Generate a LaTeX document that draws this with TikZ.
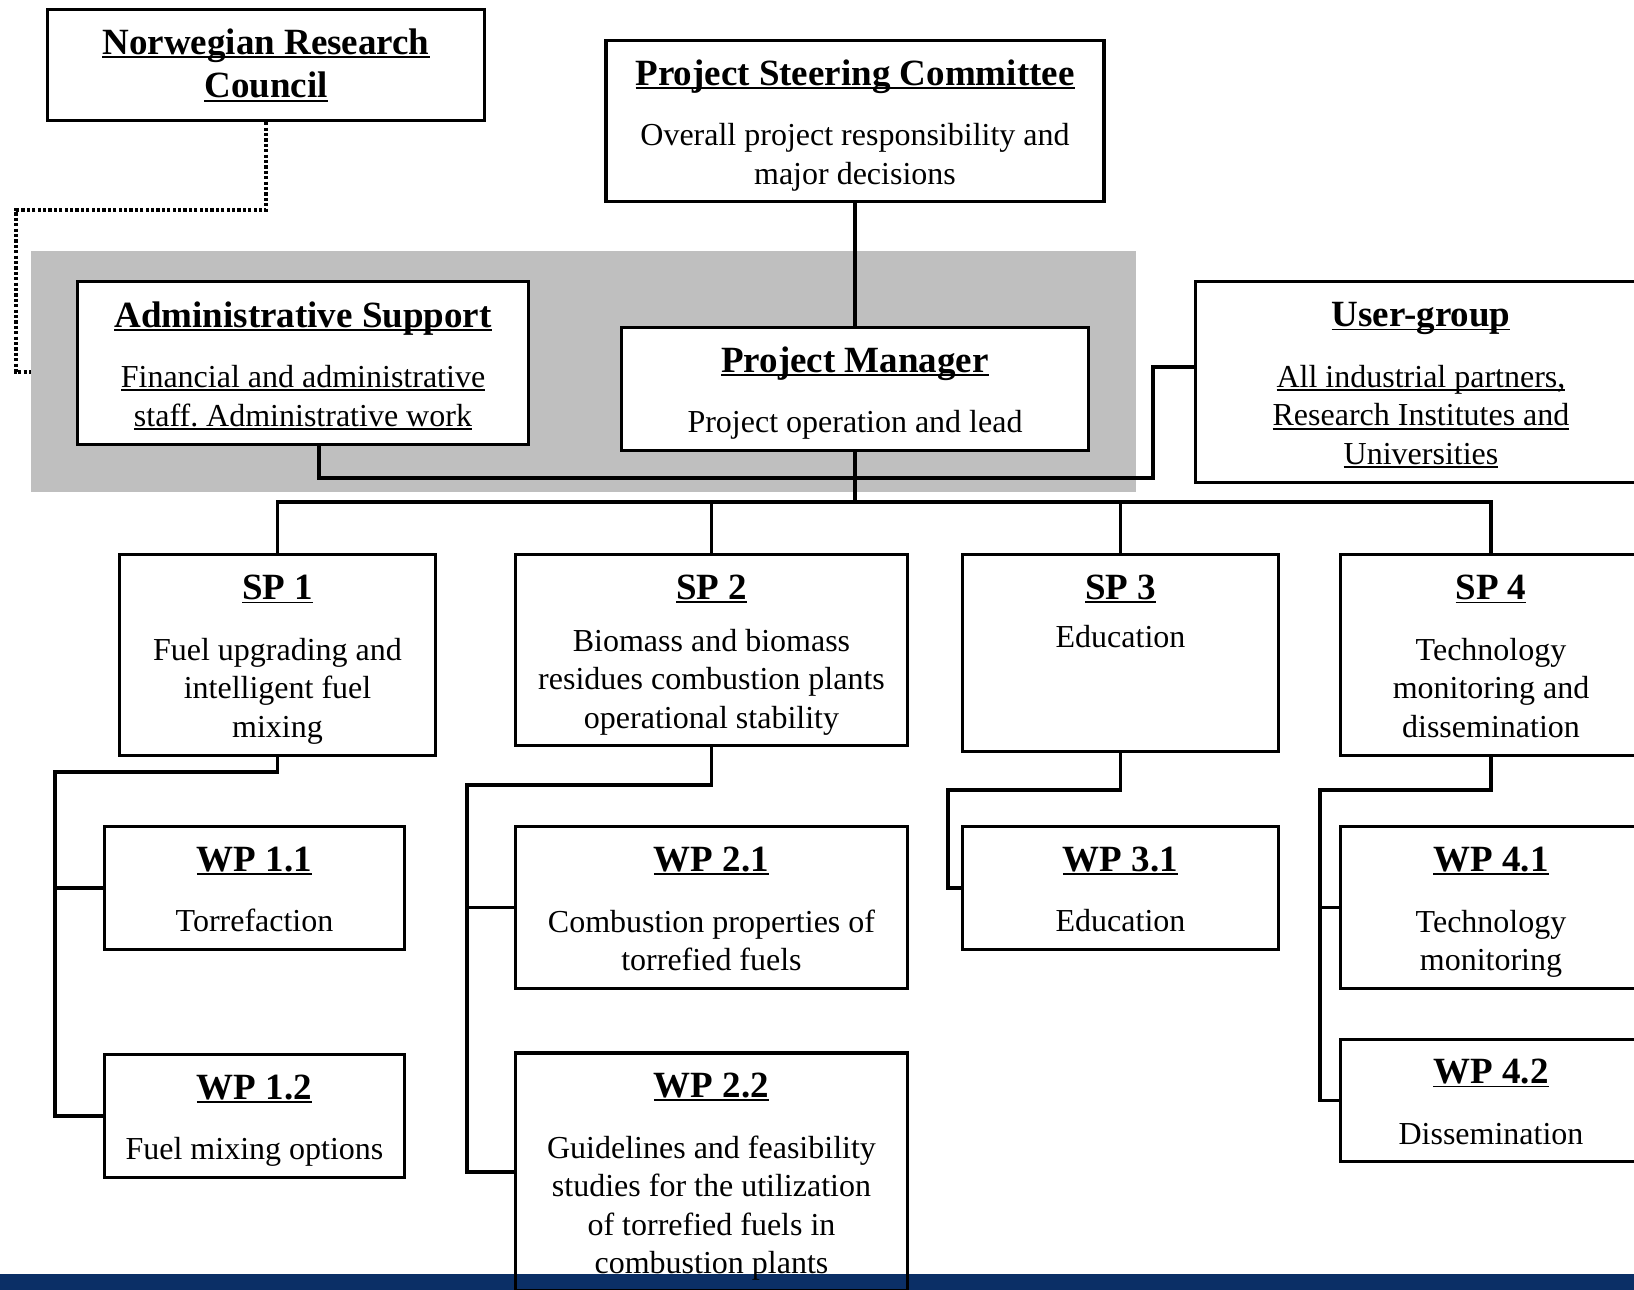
\documentclass[tikz,border=0pt]{standalone}
\usepackage{fontspec}
\setmainfont{Liberation Serif}
\usetikzlibrary{positioning}
\frenchspacing

\definecolor{cinzento}{RGB}{191,191,191}
\definecolor{azulfaixa}{RGB}{11,47,102}
\newcommand{\sublinhado}[1]{\setbox0\hbox{#1}\rlap{\rule[-1.8pt]{\wd0}{0.9pt}}\box0}
\newcommand{\nome}[1]{{\fontsize{18.5}{22}\selectfont\bfseries\sublinhado{#1}}}
\newcommand{\titulo}[1]{\rule{0pt}{19.4pt}\nome{#1}}

\pgfdeclarelayer{fundo}
\pgfsetlayers{fundo,main}

\begin{document}
\begin{tikzpicture}[x=0.5pt,y=-0.5pt,
		caixa/.style={draw, line width=1.6pt, fill=white, align=center, inner sep=0pt,
			font=\fontsize{16}{19.3}\selectfont},
		texto/.style={align=center, inner sep=0pt, font=\fontsize{16}{19.3}\selectfont},
		liga/.style={line width=1.6pt},
		pontilhado/.style={line width=1.6pt, dash pattern=on 1.6pt off 1.1pt}]
	\useasboundingbox (0,0) rectangle (1634,1290);

	% Caixas de topo
	\node[caixa, minimum width=218.5pt, minimum height=55.5pt] (nrc) at (266,65)
		{\nome{Norwegian Research}\\[2.6pt]\nome{Council}};
	\node[caixa, minimum width=249pt, minimum height=80.5pt] (psc) at (855,121)
		{\titulo{Project Steering Committee}\\[11pt]Overall project responsibility and\\major decisions\strut};
	\node[caixa, minimum width=225.5pt, minimum height=81.5pt] (admin) at (303,363)
		{\titulo{Administrative Support}\\[11pt]\sublinhado{Financial and administrative}\\\sublinhado{staff. Administrative work}\strut};
	\node[caixa, minimum width=233.5pt, minimum height=61.5pt] (pm) at (855,389)
		{\titulo{Project Manager}\\[11pt]Project operation and lead\strut};
	\node[caixa, minimum width=225.5pt, minimum height=100.5pt] (user) at (1421,382)
		{\titulo{User-group}\\[11pt]\sublinhado{All industrial partners,}\\\sublinhado{Research Institutes and}\\\sublinhado{Universities}\strut};

	% Subprojetos
	\node[caixa, minimum width=158pt, minimum height=100.5pt] (sp1) at (277.5,655)
		{\titulo{SP 1}\\[11pt]Fuel upgrading and\\intelligent fuel\\mixing\strut};
	\node[caixa, minimum width=196pt, minimum height=95.5pt] (sp2) at (711.5,650)
		{\titulo{SP 2}\\[6.7pt]Biomass and biomass\\residues combustion plants\\operational stability\strut};
	\node[caixa, minimum width=158pt, minimum height=98.5pt] (sp3) at (1120.5,653) {};
	\node[texto, below=3.5pt of sp3.north] (sp3txt) {\titulo{SP 3}\\[4.7pt]Education\strut};
	\node[caixa, minimum width=150.5pt, minimum height=100.5pt] (sp4) at (1491,655)
		{\titulo{SP 4}\\[11pt]Technology\\monitoring and\\dissemination\strut};

	% Pacotes de trabalho
	\node[caixa, minimum width=150pt, minimum height=61.5pt] (wp11) at (254.5,888)
		{\titulo{WP 1.1}\\[11pt]Torrefaction\strut};
	\node[caixa, minimum width=150pt, minimum height=61.5pt] (wp12) at (254.5,1116)
		{\titulo{WP 1.2}\\[11pt]Fuel mixing options\strut};
	\node[caixa, minimum width=196pt, minimum height=81pt] (wp21) at (711.5,907.5)
		{\titulo{WP 2.1}\\[11pt]Combustion properties of\\torrefied fuels\strut};
	\node[caixa, fill=none, minimum width=196pt, minimum height=119pt] (wp22) at (711.5,1172)
		{\titulo{WP 2.2}\\[11pt]Guidelines and feasibility\\studies for the utilization\\of torrefied fuels in\\combustion plants\strut};
	\node[caixa, minimum width=158pt, minimum height=61.5pt] (wp31) at (1120.5,888)
		{\titulo{WP 3.1}\\[11pt]Education\strut};
	\node[caixa, minimum width=150.5pt, minimum height=81pt] (wp41) at (1491,907.5)
		{\titulo{WP 4.1}\\[11pt]Technology\\monitoring\strut};
	\node[caixa, minimum width=150.5pt, minimum height=61pt] (wp42) at (1491,1100.5)
		{\titulo{WP 4.2}\\[11pt]Dissemination\strut};

	% Ligações principais
	\coordinate (barra) at (855,502);
	\coordinate (auDobra) at (1153,478);
	\draw[liga] (psc.south) -- (psc.south |- pm.north);
	\draw[liga] (pm.south) -- (barra);
	\draw[liga] (sp1.north) |- (barra) -| (sp4.north);
	\draw[liga] (sp2.north) -- (sp2.north |- barra);
	\draw[liga] (sp3.north) -- (sp3.north |- barra);
	\draw[liga] ([xshift=8pt]admin.south) |- (auDobra) |- ([yshift=7.5pt]user.west);

	% Ligações aos pacotes
	\coordinate (sp1Dobra) at (55,772);
	\coordinate (sp2Dobra) at (467,785);
	\coordinate (sp3Dobra) at (948,790);
	\coordinate (sp4Dobra) at (1320,790);
	\draw[liga] (sp1.south) |- (sp1Dobra) |- (wp12.west);
	\draw[liga] (sp1Dobra |- wp11.west) -- (wp11.west);
	\draw[liga] (sp2.south) |- (sp2Dobra) |- (wp22.west);
	\draw[liga] (sp2Dobra |- wp21.west) -- (wp21.west);
	\draw[liga] (sp3.south) |- (sp3Dobra) |- (wp31.west);
	\draw[liga] (sp4.south) |- (sp4Dobra) |- (wp42.west);
	\draw[liga] (sp4Dobra |- wp41.west) -- (wp41.west);

	% Fundo
	\coordinate (nrcDobra) at (16,210);
	\begin{pgfonlayer}{fundo}
		\draw[pontilhado] (nrc.south) |- (nrcDobra) |- ([yshift=-4.5pt]admin.west);
		\fill[cinzento] (31,251) rectangle (1136,492);
		\fill[azulfaixa] (0,1274) rectangle (1634,1290);
	\end{pgfonlayer}
\end{tikzpicture}
\end{document}
